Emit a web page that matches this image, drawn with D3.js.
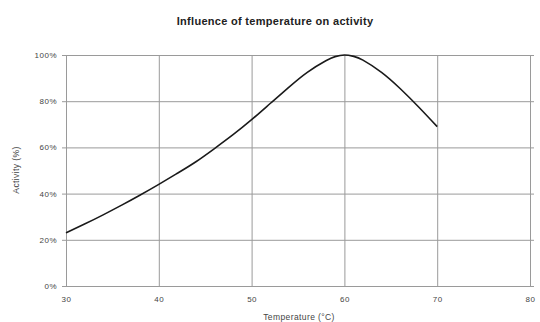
<!DOCTYPE html>
<html>
<head>
<meta charset="utf-8">
<script src="https://cdn.jsdelivr.net/npm/d3@7"></script>
<style>
  body { margin: 0; background: #fff; }
  svg { display: block; font-family: "Liberation Sans", Arial, sans-serif; }
  .grid line { stroke: #9a9a9a; stroke-width: 1; }
  .grid path { display: none; }
  .tick text { fill: #444; font-size: 8px; letter-spacing: 0.5px; }
</style>
</head>
<body>
<div id="chart"></div>
<script>
// temperature (°C) and activity (%)
const temps = [30, 32, 34, 36, 38, 40, 42, 44, 46, 48, 50, 52, 54, 56, 58, 59, 60, 61, 62, 64, 66, 68, 70];
const activity = [23, 26.8, 30.8, 35, 39.4, 44, 48.8, 53.8, 59.5, 65.5, 72, 79, 86, 92.5, 97.5, 99.3, 100, 99.4, 97.8, 92.5, 85.5, 77.5, 69];
const xTicks = [30, 40, 50, 60, 70, 80];
const yTicks = [0, 20, 40, 60, 80, 100];

const W = 540, H = 322;
const margin = { top: 55, right: 10, bottom: 36, left: 66 };
const width = W - margin.left - margin.right;
const height = H - margin.top - margin.bottom;

const svg = d3.select('#chart').append('svg')
  .attr('width', W)
  .attr('height', H);

const g = svg.append('g').attr('transform', `translate(${margin.left}, ${margin.top})`);

const xScale = d3.scaleLinear().domain([30, 80]).range([0, width]);
const yScale = d3.scaleLinear().domain([0, 100]).range([height, 0]);

// vertical gridlines + x labels
g.append('g')
  .attr('class', 'grid')
  .attr('transform', `translate(0, ${height})`)
  .call(d3.axisBottom(xScale).tickValues(xTicks).tickSize(-height).tickFormat(d3.format('d')))
  .selectAll('text')
  .attr('y', 10);

// horizontal gridlines + y labels
g.append('g')
  .attr('class', 'grid')
  .call(d3.axisLeft(yScale).tickValues(yTicks).tickSize(-width - 4).tickFormat(d => d + '%'))
  .call(a => a.selectAll('.tick line').attr('x1', -4))
  .selectAll('text')
  .attr('x', -9);

g.selectAll('.grid .tick line')
  .filter(d => d === 100)
  .attr('stroke', '#ddd');

const line = d3.line()
  .curve(d3.curveNatural)
  .x((d, i) => xScale(temps[i]))
  .y(d => yScale(d));

g.append('path')
  .datum(activity)
  .attr('fill', 'none')
  .attr('stroke', '#1a1a1a')
  .attr('stroke-width', 1.6)
  .attr('d', line);

svg.append('text')
  .attr('x', 275)
  .attr('y', 25)
  .attr('text-anchor', 'middle')
  .attr('font-size', 11)
  .attr('font-weight', 'bold')
  .attr('letter-spacing', 0.3)
  .attr('fill', '#222')
  .text('Influence of temperature on activity');

svg.append('text')
  .attr('x', 299)
  .attr('y', 320)
  .attr('text-anchor', 'middle')
  .attr('font-size', 8.5)
  .attr('letter-spacing', 0.4)
  .attr('fill', '#444')
  .text('Temperature (°C)');

svg.append('text')
  .attr('transform', `translate(19, 170) rotate(-90)`)
  .attr('text-anchor', 'middle')
  .attr('font-size', 8.5)
  .attr('letter-spacing', 0.4)
  .attr('fill', '#444')
  .text('Activity (%)');
</script>
</body>
</html>
